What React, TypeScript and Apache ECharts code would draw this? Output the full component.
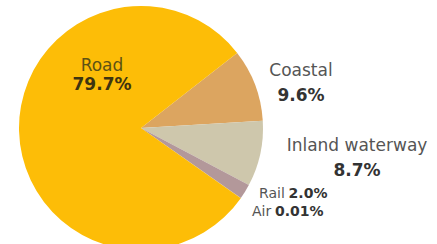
import React, { useEffect, useRef } from "react";
import * as echarts from "echarts";

const categories = ["Coastal", "Inland waterway", "Rail", "Air", "Road"];
const shares = [9.6, 8.7, 2.0, 0.01, 79.7];
const colors = ["#DCA560", "#CEC7AC", "#B3989A", "#B3989A", "#FDBD07"];

const fmt = (v: number) => (v >= 1 ? v.toFixed(1) : String(v)) + "%";

// label anchor points (layout only)
const labelAnchors: Record<string, { x: number; y: number; align: string }> = {
  Coastal: { x: 301, y: 82, align: "center" },
  "Inland waterway": { x: 357, y: 157, align: "center" },
  Rail: { x: 259, y: 193, align: "left" },
  Air: { x: 252, y: 211, align: "left" },
  Road: { x: 102, y: 74, align: "center" },
};

export default function App() {
  const ref = useRef<HTMLDivElement>(null);
  useEffect(() => {
    document.body.style.margin = "0";
    const chart = echarts.init(ref.current!, null, { renderer: "svg" });
    const font = "DejaVu Sans";
    chart.setOption({
      animation: false,
      backgroundColor: "#ffffff",
      series: [
        {
          type: "pie",
          center: [141, 128],
          radius: [0, 122],
          startAngle: 38,
          clockwise: true,
          avoidLabelOverlap: false,
          labelLine: { show: false },
          itemStyle: { borderWidth: 0 },
          emphasis: { disabled: true },
          data: categories.map((c, i) => ({
            name: c,
            value: shares[i],
            itemStyle: { color: colors[i] },
          })),
          label: {
            show: true,
            position: "outside",
            fontFamily: font,
            formatter: (p: any) => {
              const v = fmt(p.value);
              if (p.name === "Road") return `{rn|${p.name}}\n{rv|${v}}`;
              if (p.name === "Rail" || p.name === "Air")
                return `{s|${p.name}} {sv|${v}}`;
              return `{n|${p.name}}\n{v|${v}}`;
            },
            rich: {
              rn: { fontFamily: font, fontSize: 17, color: "#5E5214", lineHeight: 19, align: "center" },
              rv: { fontFamily: font, fontSize: 17, color: "#3E3410", fontWeight: 700, lineHeight: 19, align: "center" },
              n: { fontFamily: font, fontSize: 17, color: "#555555", lineHeight: 25, align: "center" },
              v: { fontFamily: font, fontSize: 17, color: "#333333", fontWeight: 700, lineHeight: 25, align: "center" },
              s: { fontFamily: font, fontSize: 14, color: "#555555" },
              sv: { fontFamily: font, fontSize: 14, color: "#333333", fontWeight: 700 },
            },
          },
          labelLayout: (params: any) => {
            const name = categories[params.dataIndex];
            const a = labelAnchors[name];
            return { x: a.x, y: a.y, align: a.align, verticalAlign: "middle", hideOverlap: false };
          },
        },
      ],
    });
    return () => chart.dispose();
  }, []);
  return <div ref={ref} style={{ width: 437, height: 244 }} />;
}
